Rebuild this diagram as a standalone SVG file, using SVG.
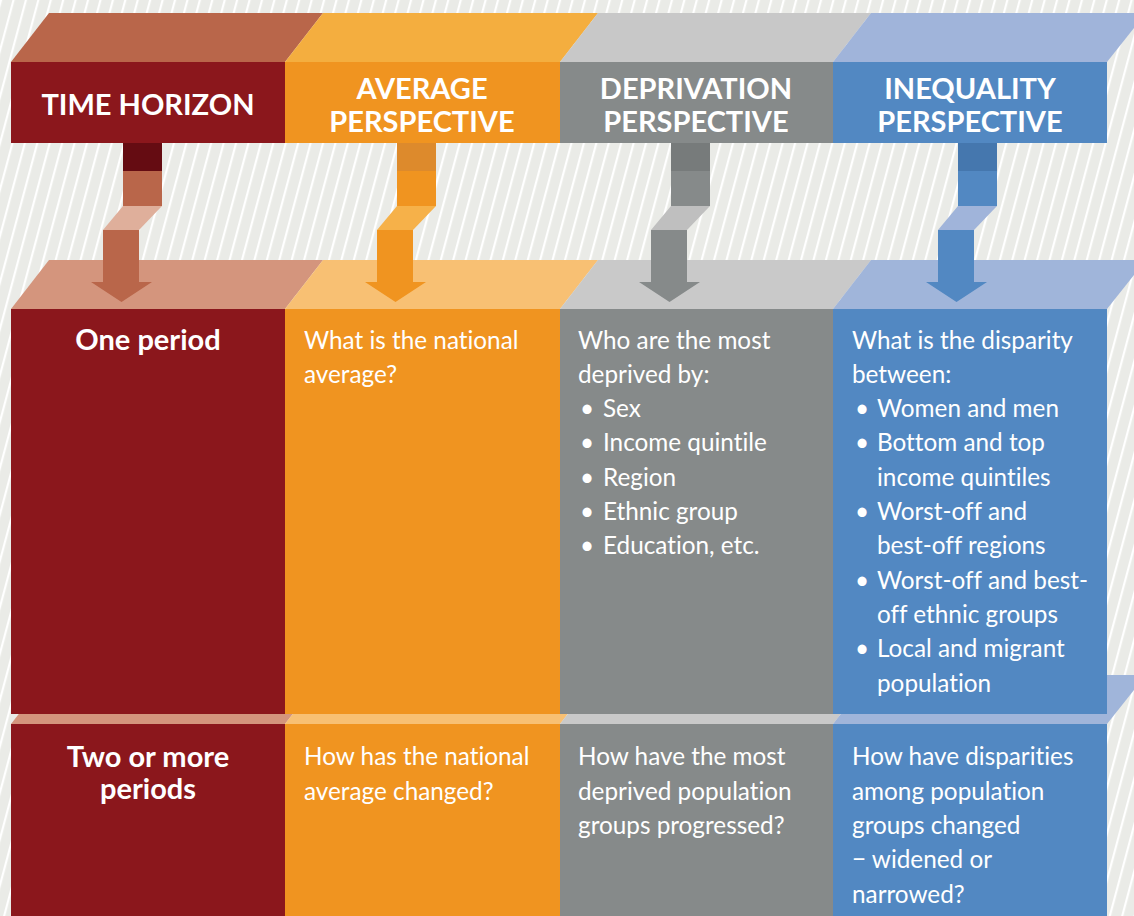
<svg xmlns="http://www.w3.org/2000/svg" width="1134" height="916" viewBox="0 0 1134 916">
<defs>
<pattern id="stripes" patternUnits="userSpaceOnUse" width="12" height="12" patternTransform="rotate(15)">
<rect width="12" height="12" fill="#EAEBE7"/>
<rect x="0" y="0" width="2.2" height="12" fill="#FFFFFF"/>
</pattern>
<style>
text{font-variant-ligatures:none;font-feature-settings:"liga" 0}
.hd{font-family:Lato,"Liberation Sans",sans-serif;font-weight:700;font-size:29px;fill:#fff;text-anchor:middle}
.rh{font-family:Lato,"Liberation Sans",sans-serif;font-weight:700;font-size:29px;fill:#fff;text-anchor:middle}
.bd{font-family:Lato,"Liberation Sans",sans-serif;font-weight:400;font-size:24.3px;fill:#fff}
.red{fill:#8B171C}.org{fill:#F09420}.gry{fill:#868A8A}.blu{fill:#5288C2}
</style>
</defs>
<rect width="1134" height="916" fill="url(#stripes)"/>

<g id="header">
<polygon points="11,62 49,13 323,13 285,62" fill="#B9664A"/>
<polygon points="285,62 323,13 598,13 560,62" fill="#F4AE3F"/>
<polygon points="560,62 598,13 871,13 833,62" fill="#C8C8C8"/>
<polygon points="833,62 871,13 1146,13 1107,62" fill="#A0B4DA"/>
<rect x="11" y="62" width="274" height="81" class="red"/>
<rect x="285" y="62" width="275" height="81" class="org"/>
<rect x="560" y="62" width="273" height="81" class="gry"/>
<rect x="833" y="62" width="274" height="81" class="blu"/>
<text class="hd" x="148" y="115">TIME HORIZON</text>
<text class="hd" x="422" y="99">AVERAGE</text>
<text class="hd" x="422" y="132">PERSPECTIVE</text>
<text class="hd" x="696" y="99">DEPRIVATION</text>
<text class="hd" x="696" y="132">PERSPECTIVE</text>
<text class="hd" x="970" y="99">INEQUALITY</text>
<text class="hd" x="970" y="132">PERSPECTIVE</text>
</g>

<g id="row2">
<polygon points="11,724 49,675 323,675 285,724" fill="#D4957D"/>
<polygon points="285,724 323,675 598,675 560,724" fill="#F8C073"/>
<polygon points="560,724 598,675 871,675 833,724" fill="#C9C9C9"/>
<polygon points="833,724 871,675 1146,675 1107,724" fill="#A0B5DA"/>
<rect x="11" y="724" width="274" height="192" class="red"/>
<rect x="285" y="724" width="275" height="192" class="org"/>
<rect x="560" y="724" width="273" height="192" class="gry"/>
<rect x="833" y="724" width="274" height="192" class="blu"/>
<text class="rh" x="148" y="767">Two or more</text>
<text class="rh" x="148" y="799">periods</text>
<text class="bd" x="304" y="765">How has the national</text>
<text class="bd" x="304" y="800">average changed?</text>
<text class="bd" x="578" y="765">How have the most</text>
<text class="bd" x="578" y="800">deprived population</text>
<text class="bd" x="578" y="834">groups progressed?</text>
<text class="bd" x="852" y="765">How have disparities</text>
<text class="bd" x="852" y="800">among population</text>
<text class="bd" x="852" y="834">groups changed</text>
<text class="bd" x="852" y="868">− widened or</text>
<text class="bd" x="852" y="903">narrowed?</text>
</g>

<g id="row1">
<polygon points="11,309 49,260 323,260 285,309" fill="#D4957D"/>
<polygon points="285,309 323,260 598,260 560,309" fill="#F8C073"/>
<polygon points="560,309 598,260 871,260 833,309" fill="#C9C9C9"/>
<polygon points="833,309 871,260 1146,260 1107,309" fill="#A0B5DA"/>
</g>

<g id="connectors">
<g>
<rect x="123" y="143" width="39" height="28" fill="#650C12"/>
<rect x="123" y="171" width="39" height="35" fill="#B9664A"/>
<polygon points="123,206 162,206 139,230 103,230" fill="#DFAF9B"/>
<polygon points="103,230 139,230 139,282 152,282 121.5,302 91,282 103,282" fill="#B9664A"/>
</g>
<g>
<rect x="397" y="143" width="39" height="28" fill="#DD8A2C"/>
<rect x="397" y="171" width="39" height="35" fill="#F09420"/>
<polygon points="397,206 436,206 413,230 377,230" fill="#F6B149"/>
<polygon points="377,230 413,230 413,282 426,282 395.5,302 365,282 377,282" fill="#F09420"/>
</g>
<g>
<rect x="671" y="143" width="39" height="28" fill="#777B7B"/>
<rect x="671" y="171" width="39" height="35" fill="#868A8A"/>
<polygon points="671,206 710,206 687,230 651,230" fill="#BFBFBF"/>
<polygon points="651,230 687,230 687,282 700,282 669.5,302 639,282 651,282" fill="#868A8A"/>
</g>
<g>
<rect x="958" y="143" width="39" height="28" fill="#4577AE"/>
<rect x="958" y="171" width="39" height="35" fill="#5288C2"/>
<polygon points="958,206 997,206 974,230 938,230" fill="#A0B4DA"/>
<polygon points="938,230 974,230 974,282 987,282 956.5,302 926,282 938,282" fill="#5288C2"/>
</g>
</g>

<g id="row1-cells">
<rect x="11" y="309" width="274" height="405" class="red"/>
<rect x="285" y="309" width="275" height="405" class="org"/>
<rect x="560" y="309" width="273" height="405" class="gry"/>
<rect x="833" y="309" width="274" height="405" class="blu"/>
<text class="rh" x="148" y="350">One period</text>
<text class="bd" x="304" y="349">What is the national</text>
<text class="bd" x="304" y="383">average?</text>
<text class="bd" x="578" y="349">Who are the most</text>
<text class="bd" x="578" y="383">deprived by:</text>
<text class="bd" x="580" y="417">•</text><text class="bd" x="603" y="417">Sex</text>
<text class="bd" x="580" y="451">•</text><text class="bd" x="603" y="451">Income quintile</text>
<text class="bd" x="580" y="486">•</text><text class="bd" x="603" y="486">Region</text>
<text class="bd" x="580" y="520">•</text><text class="bd" x="603" y="520">Ethnic group</text>
<text class="bd" x="580" y="554">•</text><text class="bd" x="603" y="554">Education, etc.</text>
<text class="bd" x="852" y="349">What is the disparity</text>
<text class="bd" x="852" y="383">between:</text>
<text class="bd" x="855" y="417">•</text><text class="bd" x="877" y="417">Women and men</text>
<text class="bd" x="855" y="451">•</text><text class="bd" x="877" y="451">Bottom and top</text>
<text class="bd" x="877" y="486">income quintiles</text>
<text class="bd" x="855" y="520">•</text><text class="bd" x="877" y="520">Worst-off and</text>
<text class="bd" x="877" y="554">best-off regions</text>
<text class="bd" x="855" y="589">•</text><text class="bd" x="877" y="589">Worst-off and best-</text>
<text class="bd" x="877" y="623">off ethnic groups</text>
<text class="bd" x="855" y="657">•</text><text class="bd" x="877" y="657">Local and migrant</text>
<text class="bd" x="877" y="692">population</text>
</g>
</svg>
